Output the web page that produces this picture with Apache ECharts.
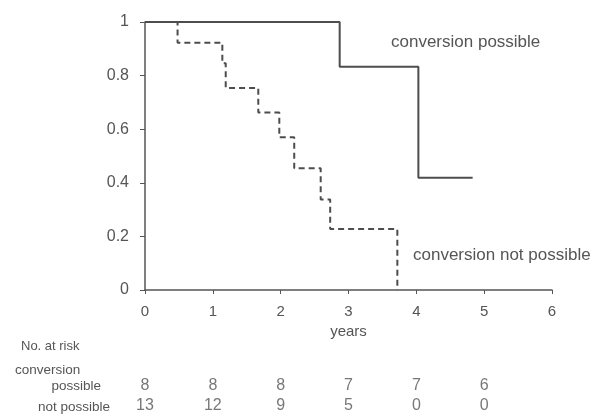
<!DOCTYPE html>
<html>
<head>
<meta charset="utf-8">
<script src="https://cdn.jsdelivr.net/npm/echarts@6/dist/echarts.min.js"></script>
<style>
html,body{margin:0;padding:0;background:#fff;}
#c{width:595px;height:415px;}
</style>
</head>
<body>
<div id="c"></div>
<script>
// Kaplan-Meier step points (time in years, survival proportion)
var possibleTimes = [0, 2.87, 4.03, 4.83];
var possibleSurv  = [1, 0.833, 0.419, 0.419];
var notPossibleTimes = [0, 0.48, 1.14, 1.19, 1.67, 1.98, 2.2, 2.59, 2.73, 3.72];
var notPossibleSurv  = [1, 0.923, 0.846, 0.754, 0.662, 0.570, 0.454, 0.338, 0.228, 0];
// Numbers at risk
var riskYears = [0, 1, 2, 3, 4, 5];
var riskPossible = [8, 8, 8, 7, 7, 6];
var riskNotPossible = [13, 12, 9, 5, 0, 0];
var riskRows = ['possible', 'not possible'];
var xTicks = [0, 1, 2, 3, 4, 5, 6];
var yTicks = [0, 0.2, 0.4, 0.6, 0.8, 1];

var FONT = '"Liberation Sans", Arial, sans-serif';
var TXT = '#555';
var LINE = '#4d4d4d';

function zip(a, b) { return a.map(function (v, i) { return [v, b[i]]; }); }

var riskData = [];
riskYears.forEach(function (y, i) {
  riskData.push([y, riskRows[0], riskPossible[i]]);
  riskData.push([y, riskRows[1], riskNotPossible[i]]);
});

var chart = echarts.init(document.getElementById('c'), null, {renderer: 'canvas'});
chart.setOption({
  animation: false,
  backgroundColor: '#fff',
  textStyle: {fontFamily: FONT},
  grid: [
    {left: 145, right: 43, top: 22, height: 268},
    {left: 145, right: 43, top: 376, height: 40}
  ],
  xAxis: [{
    gridIndex: 0, type: 'value', min: 0, max: 6, interval: 1,
    name: 'years', nameLocation: 'middle', nameGap: 34,
    nameTextStyle: {color: TXT, fontSize: 15, fontFamily: FONT},
    axisLine: {show: true, onZero: false, lineStyle: {color: '#555', width: 1.5}},
    axisTick: {show: true, length: 4, lineStyle: {color: '#555'}},
    axisLabel: {color: TXT, fontSize: 15, margin: 14, fontFamily: FONT},
    splitLine: {show: false}
  }, {
    gridIndex: 1, type: 'value', min: 0, max: 6, interval: 1, show: false
  }],
  yAxis: [{
    gridIndex: 0, type: 'value', min: 0, max: 1, interval: 0.2,
    axisLine: {show: true, onZero: false, lineStyle: {color: '#555', width: 1.5}},
    axisTick: {show: true, length: 5, lineStyle: {color: '#555'}},
    axisLabel: {color: TXT, fontSize: 16, margin: 16, fontFamily: FONT},
    splitLine: {show: false}
  }, {
    gridIndex: 1, type: 'category', data: riskRows, inverse: true, show: false
  }],
  series: [{
    type: 'line', xAxisIndex: 0, yAxisIndex: 0, step: 'end',
    data: zip(possibleTimes, possibleSurv), showSymbol: false, symbol: 'none',
    lineStyle: {color: LINE, width: 2}
  }, {
    type: 'line', xAxisIndex: 0, yAxisIndex: 0, step: 'end',
    data: zip(notPossibleTimes, notPossibleSurv), showSymbol: false, symbol: 'none',
    lineStyle: {color: LINE, width: 2, type: [6, 4]}
  }, {
    type: 'scatter', xAxisIndex: 1, yAxisIndex: 1, symbolSize: 0,
    data: riskData,
    label: {show: true, position: 'inside', color: TXT, fontSize: 16, fontFamily: FONT,
      formatter: function (p) { return String(p.value[2]); }}
  }],
  graphic: [
    {type: 'text', left: 391, top: 34, style: {text: 'conversion possible', fill: TXT, font: '17px ' + FONT}},
    {type: 'text', left: 413, top: 247, style: {text: 'conversion not possible', fill: TXT, font: '17px ' + FONT}},
    {type: 'text', left: 21, top: 340, style: {text: 'No. at risk', fill: TXT, font: '13px ' + FONT}},
    {type: 'text', left: 15, top: 363, style: {text: 'conversion', fill: TXT, font: '13.5px ' + FONT}},
    {type: 'text', right: 595 - 101, top: 379, style: {text: 'possible', fill: TXT, font: '13.5px ' + FONT, align: 'right'}},
    {type: 'text', right: 595 - 110, top: 400, style: {text: 'not possible', fill: TXT, font: '13.5px ' + FONT, align: 'right'}}
  ]
});
</script>
</body>
</html>
